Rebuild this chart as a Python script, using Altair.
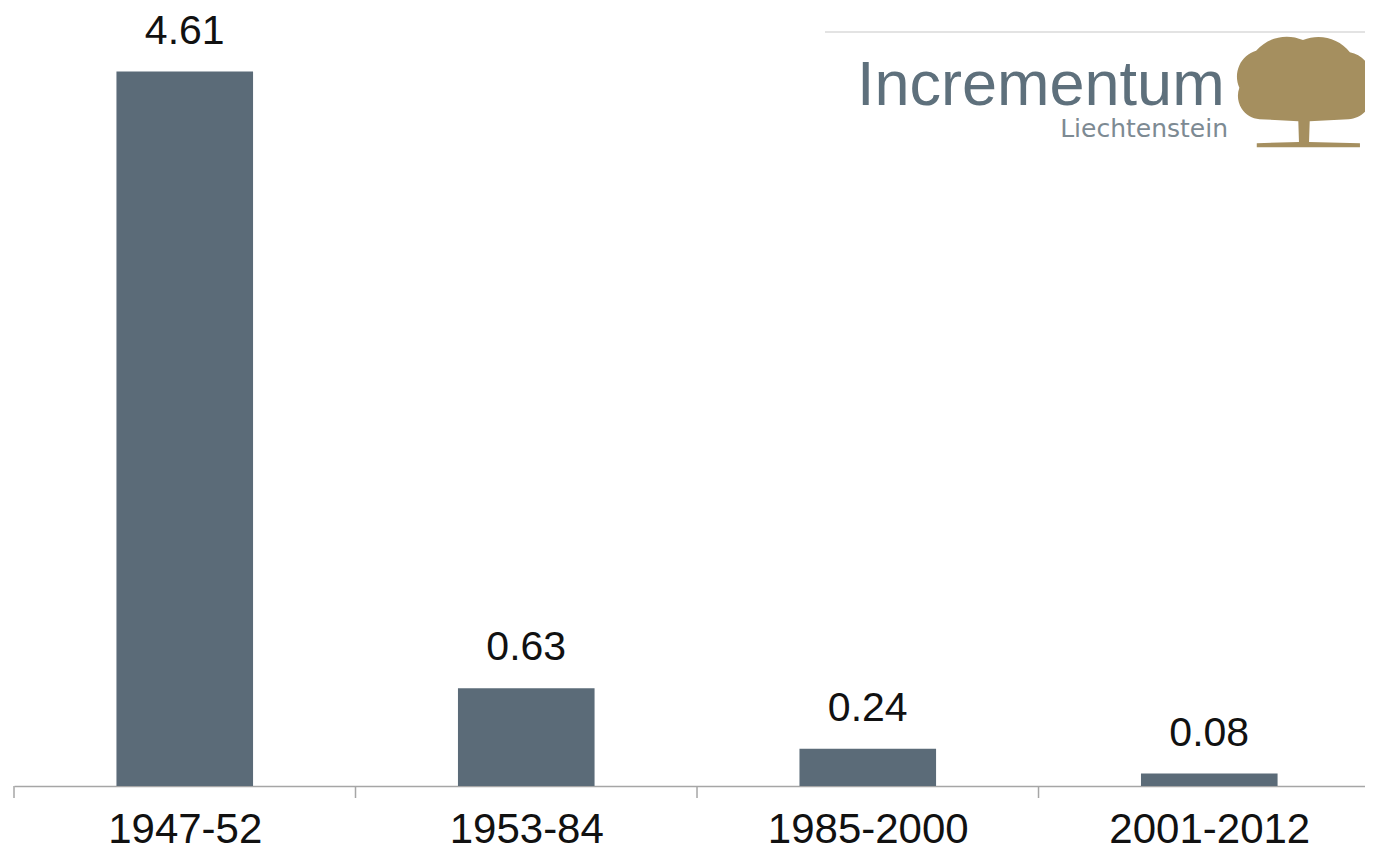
import altair as alt
import pandas as pd

periods = ["1947-52", "1953-84", "1985-2000", "2001-2012"]
values = [4.61, 0.63, 0.24, 0.08]
labels = ["4.61", "0.63", "0.24", "0.08"]

df = pd.DataFrame({"period": periods, "value": values, "label": labels, "idx": list(range(len(periods)))})

FONT = "Liberation Sans"
BAR = "#5b6b78"
AXIS_GREY = "#a6a6a6"

label_expr = "[" + ",".join(f"'{p}'" for p in periods) + "][datum.value]"

xscale = alt.Scale(domain=[-0.5, 3.456], nice=False, zero=False)
x_axis = alt.Axis(
    title=None, values=list(range(len(periods))), labelExpr=label_expr,
    labelAngle=0, labelFont=FONT, labelFontSize=42, labelLimit=0,
    labelColor="#111111", domainColor=AXIS_GREY, domainWidth=1.5,
    ticks=False, labelPadding=23, grid=False, labelOverlap=False,
)
yscale = alt.Scale(domain=[0, 5.02], nice=False, zero=True)
y = alt.Y("value:Q", scale=yscale, axis=None)

base = alt.Chart(df).transform_calculate(
    x0="datum.idx - 0.2", x1="datum.idx + 0.2", tick="datum.idx - 0.5"
)
bars = base.mark_rect(color=BAR).encode(
    x=alt.X("x0:Q", scale=xscale, axis=x_axis), x2="x1:Q", y=y, y2=alt.datum(0)
)
text = base.mark_text(font=FONT, fontSize=41, color="#111111", dy=-28, baseline="alphabetic").encode(
    x=alt.X("idx:Q", scale=xscale, axis=x_axis), y=y, text="label:N"
)
# category boundary ticks below the axis line
ticks = base.mark_rule(color=AXIS_GREY, strokeWidth=1.5).encode(
    x=alt.X("tick:Q", scale=xscale, axis=x_axis),
    y=alt.value(778), y2=alt.value(790),
)

logo_df = pd.DataFrame({"name": ["Incrementum"], "sub": ["Liechtenstein"]})
logo = alt.Chart(logo_df)
rule = logo.mark_rule(color="#e3e3e3", strokeWidth=2).encode(
    x=alt.value(811), x2=alt.value(1400), y=alt.value(24)
)
title_txt = logo.mark_text(font=FONT, fontSize=63, color="#5e707c", align="left", baseline="alphabetic").encode(
    x=alt.value(843), y=alt.value(97), text="name:N"
)
sub_txt = logo.mark_text(font="DejaVu Sans", fontSize=25, color="#7d8a93", align="right", baseline="alphabetic").encode(
    x=alt.value(1214), y=alt.value(129), text="sub:N"
)
tree_path = (
    "M -0.95 -0.05 A 0.4 0.4 0 0 1 -0.7 -0.6 A 0.6 0.6 0 0 1 0.0 -0.76 "
    "A 0.6 0.6 0 0 1 0.7 -0.58 A 0.4 0.4 0 0 1 1 -0.05 A 0.35 0.35 0 0 1 0.68 0.42 "
    "L 0.1 0.45 L 0.09 0.76 L 0.85 0.78 L 0.85 0.84 L -0.69 0.84 L -0.69 0.78 "
    "L -0.06 0.76 L -0.07 0.45 L -0.65 0.42 A 0.35 0.35 0 0 1 -0.95 -0.05 Z"
)
tree = logo.mark_point(shape=tree_path, filled=True, color="#a58f5f", opacity=1, size=17956).encode(
    x=alt.value(1289), y=alt.value(83)
)

chart = (
    alt.layer(bars, text, ticks, rule, title_txt, sub_txt, tree)
    .properties(
        width=1351, height=778,
        background="white",
        autosize=alt.AutoSizeParams(type="none"),
        padding={"left": 6, "top": 0, "right": 0, "bottom": 60},
    )
    .configure_view(stroke=None, strokeWidth=0)
)

chart.save("out.html", embed_options={"renderer": "svg", "actions": False})
